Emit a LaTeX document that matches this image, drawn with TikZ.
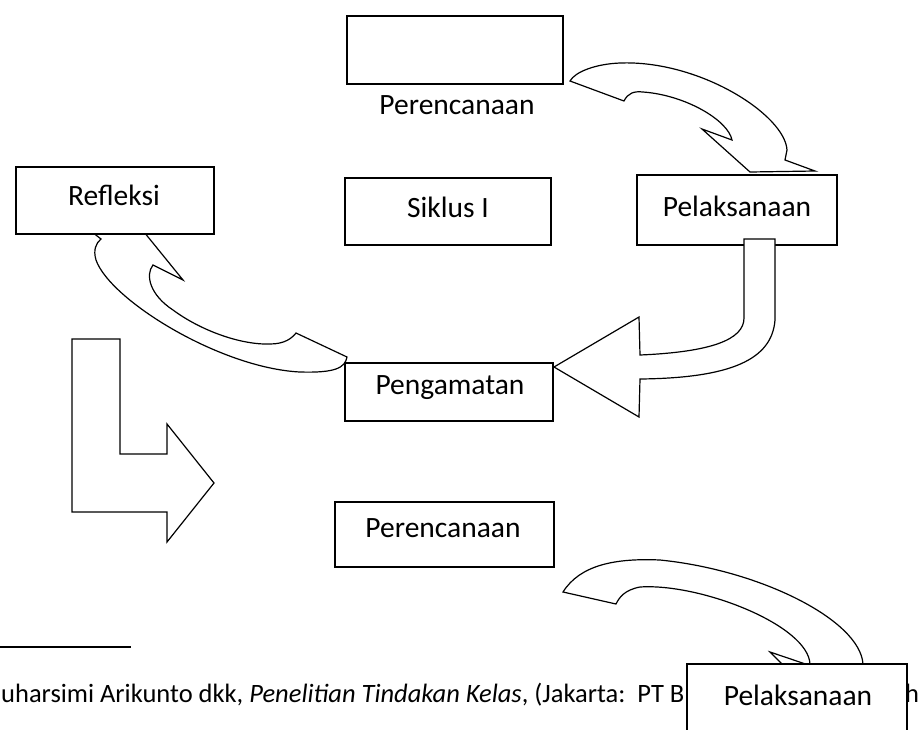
\documentclass[tikz,border=0pt]{standalone}
\usepackage{fontspec}
\setmainfont{Carlito}
\begin{document}
\begin{tikzpicture}[x=1pt,y=-1pt,line join=miter]
\tikzset{
  box/.style={draw,line width=1.3pt,fill=white},
  lbl/.style={font=\fontsize{29.5}{34}\selectfont,inner sep=0pt},
  blk/.style={draw,line width=1.2pt,fill=white},
  fn/.style={font=\fontsize{26.5}{30}\selectfont,inner sep=0pt,anchor=base west}
}
\useasboundingbox (0,0) rectangle (918,729);
% arrow 1: top curved arrow
\path[blk] (570,81) -- (624,101)
  .. controls (628,93) and (634,91) .. (643,92)
  .. controls (685,95) and (728,120) .. (732,140)
  -- (702,129) -- (750,172) -- (815,171) -- (785,160) -- (787,150)
  .. controls (785,115) and (700,60) .. (620,63)
  .. controls (595,64) and (575,72) .. (570,81) -- cycle;
% arrow 2: curved arrow to Refleksi
\path[blk] (347,357)
  .. controls (345,368) and (335,373) .. (300,372)
  .. controls (220,368) and (110,300) .. (96,260)
  .. controls (93,250) and (96,243) .. (101,239)
  -- (92,232) -- (118,200) -- (183,280) -- (153,265)
  .. controls (145,275) and (150,295) .. (173,310)
  .. controls (200,330) and (240,345) .. (270,344)
  .. controls (285,344) and (292,338) .. (296,333) -- cycle;
% arrow 4: L-shaped arrow
\path[blk] (72,339) -- (120,339) -- (120,454) -- (167,454) -- (167,424)
  -- (214,483) -- (167,542) -- (167,512) -- (72,512) -- cycle;
% arrow 5: bottom curved arrow
\path[blk] (563,592) -- (616,604)
  .. controls (619,598) and (624,590) .. (640,587)
  .. controls (700,583) and (808,625) .. (810,664)
  -- (810,680) -- (790,672) -- (770,652) -- (835,674) -- (860,690) -- (863,664)
  .. controls (860,620) and (760,570) .. (660,560)
  .. controls (615,558) and (580,565) .. (563,592) -- cycle;
% footnote
\draw[line width=1.3pt] (0,647) coordinate (fnl) -- (131,647) coordinate (fnr);
\node[fn] (fntext) at (1,702) {uharsimi Arikunto dkk, \textit{Penelitian Tindakan Kelas}, (Jakarta:\ \ PT B};
\node[fn] (fnh) at (905,702) {h};
% boxes
\draw[box] (347,16) rectangle (563,84);
\node[lbl] (perenc1) at (457,105) {Perencanaan};
\draw[box] (16,167) rectangle (214,234);
\node[lbl] (refleksi) at (114,195) {Refleksi};
\draw[box] (345,178) rectangle (551,245);
\node[lbl] (siklus) at (448,207) {Siklus I};
\draw[box] (637,175) rectangle (837,245);
\node[lbl] (pelak1) at (737,206) {Pelaksanaan};
\draw[box] (345,363) rectangle (553,421);
\node[lbl] (pengamatan) at (450,388) {Pengamatan};
\draw[box] (335,502) rectangle (554,567);
\node[lbl] (perenc2) at (443,528) {Perencanaan};
\draw[box] (687,664) rectangle (907,745);
\node[lbl] (pelak2) at (798,695) {Pelaksanaan};
% arrow 3: U-turn arrow over Pelaksanaan
\path[blk] (744,239) -- (775,239) -- (775,320)
  .. controls (772,360) and (730,378) .. (640,379)
  -- (639,417) -- (554,367) -- (639,317) -- (640,355)
  .. controls (710,352) and (744,340) .. (744,318) -- cycle;
\end{tikzpicture}
\end{document}
